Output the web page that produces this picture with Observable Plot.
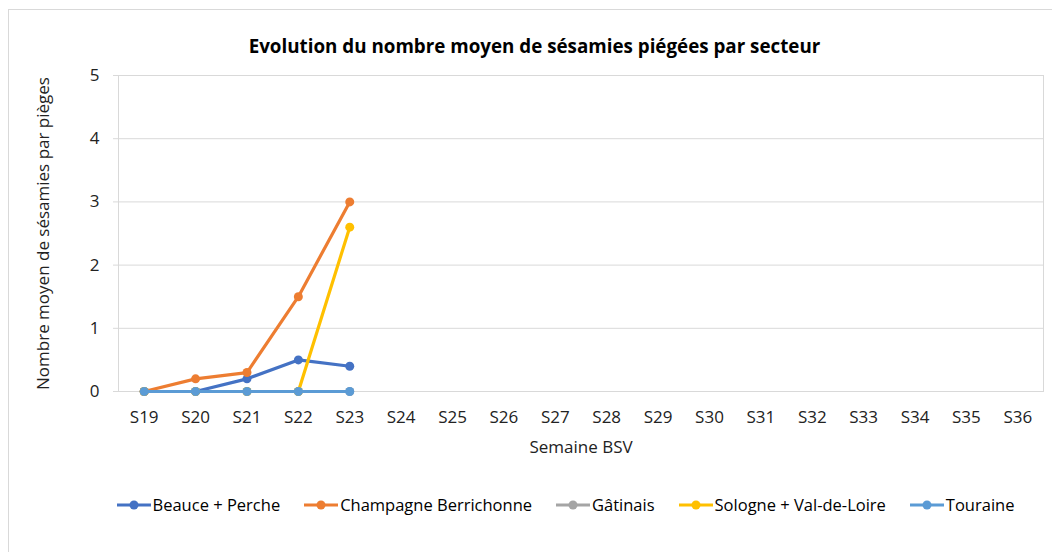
<!DOCTYPE html>
<html>
<head>
<meta charset="utf-8">
<script src="https://cdn.jsdelivr.net/npm/d3@7"></script>
<script src="https://cdn.jsdelivr.net/npm/@observablehq/plot@0.6"></script>
<style>
  html, body { margin: 0; padding: 0; background: #fff; }
  #wrap { position: relative; width: 1052px; height: 552px; overflow: hidden; font-family: "Open Sans", Lato, sans-serif; }
  #border { position: absolute; left: 8px; top: 9px; width: 1100px; height: 600px; border: 1px solid #d9d9d9; box-sizing: border-box; }
  #title { position: absolute; top: 33px; left: 0; width: 1069px; text-align: center; font-weight: bold; font-size: 18.8px; color: #000; }
  #chart { position: absolute; left: 0; top: 0; }
  #legend { position: absolute; top: 493px; left: 0; width: 1131px; display: flex; justify-content: center; gap: 24px; font-size: 16.5px; color: #000; }
  .item { display: flex; align-items: center; }
  .item svg { margin-right: 2px; }
</style>
</head>
<body>
<div id="wrap">
  <div id="border"></div>
  <div id="chart"></div>
  <div id="title">Evolution du nombre moyen de sésamies piégées par secteur</div>
  <div id="legend"></div>
</div>
<script>
const weeks = ["S19","S20","S21","S22","S23","S24","S25","S26","S27","S28","S29","S30","S31","S32","S33","S34","S35","S36"];
const seriesNames = ["Beauce + Perche","Champagne Berrichonne","Gâtinais","Sologne + Val-de-Loire","Touraine"];
const seriesColors = ["#4472C4","#ED7D31","#A5A5A5","#FFC000","#5B9BD5"];
const beauce = [0, 0, 0.2, 0.5, 0.4];
const champagne = [0, 0.2, 0.3, 1.5, 3.0];
const gatinais = [0, 0, 0, 0, 0];
const sologne = [0, 0, 0, 0, 2.6];
const touraine = [0, 0, 0, 0, 0];
const yTicks = [0, 1, 2, 3, 4, 5];

const allSeries = [beauce, champagne, gatinais, sologne, touraine];
const rows = [];
allSeries.forEach((vals, si) => {
  vals.forEach((v, i) => rows.push({ serie: seriesNames[si], week: weeks[i], value: v, order: si }));
});

const marks = [
  Plot.gridY(yTicks, { stroke: "#d9d9d9", strokeOpacity: 1 }),
  Plot.frame({ stroke: "#d9d9d9" }),
  Plot.axisY(yTicks, { tickSize: 5, stroke: "#d9d9d9", fill: "#222", tickPadding: 14, fontSize: 17, tickFormat: d3.format("d"),
    label: "Nombre moyen de sésamies par pièges", labelAnchor: "center", labelArrow: "none", labelOffset: 82 }),
  Plot.axisX(weeks, { tickSize: 0, tickPadding: 19, fill: "#222", fontSize: 17,
    label: "Semaine BSV", labelAnchor: "center", labelArrow: "none", labelOffset: 61 })
];
seriesNames.forEach((name, si) => {
  const d = rows.filter(r => r.order === si);
  marks.push(Plot.line(d, { x: "week", y: "value", stroke: seriesColors[si], strokeWidth: 3.2 }));
  marks.push(Plot.dot(d, { x: "week", y: "value", fill: seriesColors[si], r: 4.5, stroke: "none" }));
});

const chart = Plot.plot({
  width: 1052,
  height: 552,
  marginTop: 75,
  marginBottom: 161,
  marginLeft: 118,
  marginRight: 9,
  style: { fontFamily: "'Open Sans', Lato, sans-serif", fontSize: "15.5px", background: "transparent", color: "#222" },
  x: { type: "point", domain: weeks, padding: 0.5, round: false },
  y: { domain: [0, 5] },
  marks
});
document.getElementById("chart").appendChild(chart);

const legend = document.getElementById("legend");
seriesNames.forEach((name, si) => {
  const item = document.createElement("div");
  item.className = "item";
  item.innerHTML = `<svg width="34" height="12"><line x1="0" y1="6" x2="34" y2="6" stroke="${seriesColors[si]}" stroke-width="3"/><circle cx="17" cy="6" r="4.5" fill="${seriesColors[si]}"/></svg><span>${name}</span>`;
  legend.appendChild(item);
});
</script>
</body>
</html>
